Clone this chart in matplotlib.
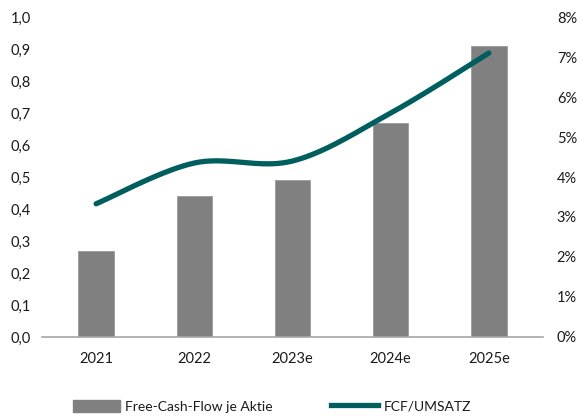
import numpy as np
import matplotlib.pyplot as plt
from matplotlib.ticker import FuncFormatter
from matplotlib.lines import Line2D
from matplotlib.patches import Patch

years = ['2021', '2022', '2023e', '2024e', '2025e']
fcf_per_share = [0.27, 0.44, 0.49, 0.67, 0.91]
fcf_margin = [3.33, 4.35, 4.40, 5.60, 7.10]  # in %

bar_color = '#808080'
line_color = '#005e5e'
text_color = '#1a1a1a'

plt.rcParams['font.family'] = ['Lato', 'DejaVu Sans']
plt.rcParams['font.size'] = 10.5


def smooth_curve(x, y, n=40):
    # Excel-style smoothed line (Catmull-Rom as cubic Bezier)
    x = np.asarray(x, float)
    y = np.asarray(y, float)
    px = np.concatenate([[x[0]], x, [x[-1]]])
    py = np.concatenate([[y[0]], y, [y[-1]]])
    xs, ys = [], []
    t = np.linspace(0, 1, n)
    for i in range(1, len(px) - 2):
        p0 = np.array([px[i], py[i]])
        p3 = np.array([px[i + 1], py[i + 1]])
        p1 = p0 + (np.array([px[i + 1], py[i + 1]]) - np.array([px[i - 1], py[i - 1]])) / 6
        p2 = p3 - (np.array([px[i + 2], py[i + 2]]) - np.array([px[i], py[i]])) / 6
        b = ((1 - t) ** 3)[:, None] * p0 + (3 * (1 - t) ** 2 * t)[:, None] * p1 \
            + (3 * (1 - t) * t ** 2)[:, None] * p2 + (t ** 3)[:, None] * p3
        xs.extend(b[:, 0])
        ys.extend(b[:, 1])
    return np.array(xs), np.array(ys)


fig = plt.figure(figsize=(5.85, 4.16), dpi=100)
ax = fig.add_axes([0.072, 0.19, 0.856, 0.769])
ax2 = ax.twinx()

x = np.arange(len(years))
ax.bar(x, fcf_per_share, width=0.36, color=bar_color, edgecolor='#9a9a9a', linewidth=0.6, zorder=2)

sx, sy = smooth_curve(x, fcf_margin)
ax2.plot(sx, sy, color=line_color, linewidth=3.8, solid_capstyle='round', zorder=3)

ax.set_xlim(-0.55, len(years) - 0.45)
ax.set_ylim(0, 1.0)
ax.set_yticks(np.arange(0, 1.01, 0.1))
ax.yaxis.set_major_formatter(FuncFormatter(lambda v, p: f'{v:.1f}'.replace('.', ',')))
ax2.set_ylim(0, 8)
ax2.set_yticks(range(0, 9))
ax2.yaxis.set_major_formatter(FuncFormatter(lambda v, p: f'{int(round(v))}%'))

ax.set_xticks(x)
ax.set_xticklabels(years)

for a in (ax, ax2):
    for s in ('top', 'left', 'right'):
        a.spines[s].set_visible(False)
    a.spines['bottom'].set_visible(False)
    a.tick_params(length=0, colors=text_color)
ax.spines['bottom'].set_visible(True)
ax.spines['bottom'].set_color('#a6a6a6')
ax.spines['bottom'].set_linewidth(1.2)
ax.tick_params(axis='y', pad=8)
ax.tick_params(axis='x', pad=11)
ax2.tick_params(axis='y', pad=10)
ax.set_zorder(ax2.get_zorder() - 1)
ax.patch.set_visible(False)

handles = [Patch(facecolor=bar_color, edgecolor=bar_color),
           Line2D([0], [0], color=line_color, linewidth=3.8)]
labels = ['Free-Cash-Flow je Aktie', 'FCF/UMSATZ']
fig.legend(handles, labels, loc='lower center', bbox_to_anchor=(0.465, -0.022), ncol=2,
           frameon=False, handlelength=3.4, handleheight=0.9, columnspacing=4.2,
           handletextpad=0.35, labelcolor=text_color, fontsize=10)

fig.savefig('out.png', dpi=100)
